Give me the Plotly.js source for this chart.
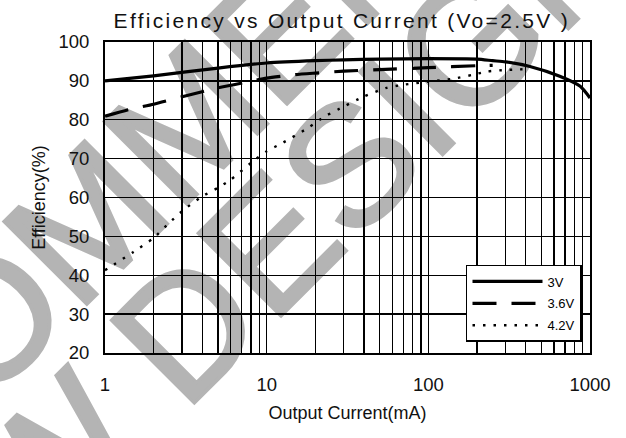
<!DOCTYPE html>
<html>
<head>
<meta charset="utf-8">
<script src="https://cdn.plot.ly/plotly-3.0.1.min.js"></script>
<style>
html,body{margin:0;padding:0;background:#fff;}
#chart{width:626px;height:438px;}
.gtitle{letter-spacing:2.3px;}
.layer-below .shapelayer text{stroke:#b4b4b4;stroke-width:3.5px;}
</style>
</head>
<body>
<div id="chart"></div>
<script>
// ---- data ----
const current3V  = [1, 2, 5, 10, 20, 30, 50, 100, 200, 250, 300, 425, 650, 870, 1000];
const eff3V      = [90, 91.3, 93.3, 94.6, 95.2, 95.4, 95.6, 95.7, 95.6, 95.2, 94.9, 93.7, 91.2, 88.6, 85.6];

const current36V = [1, 1.4, 2, 3, 5, 8, 10, 15, 20, 30, 50, 100, 200, 250];
const eff36V     = [80.9, 82.6, 84, 85.9, 88.2, 89.9, 90.7, 91.6, 92.0, 92.5, 92.9, 93.4, 93.9, 94.0];

const current42V = [1, 1.5, 2, 2.5, 3, 4, 5, 6, 8, 10, 12.5, 18, 23, 30, 40, 55, 70, 100, 140, 190, 230, 300, 400];
const eff42V     = [41.3, 46, 49.6, 53.5, 56.5, 60.3, 62.5, 64.6, 68.9, 71.9, 74, 77.9, 80.9, 83.4, 86, 88.2, 89, 89.8, 90.5, 91.6, 92.4, 92.8, 93];

const seriesNames = ['3V', '3.6V', '4.2V'];
const decades = [1, 10, 100];
const multipliers = [1, 2, 3, 4, 5, 6, 7, 8, 9];
const lastDecade = 1000;
const yTicks = [20, 30, 40, 50, 60, 70, 80, 90, 100];

const titleText = 'Efficiency vs Output Current (Vo=2.5V )';
const xTitle = 'Output Current(mA)';
const yTitle = 'Efficiency(%)';
const watermark1 = 'NOT RECOMMENDED FOR';
const watermark2 = 'NEW DESIGN';

// ---- build log grid ticks ----
const xTickVals = [];
const xTickText = [];
decades.forEach(d => multipliers.forEach(m => {
  xTickVals.push(d * m);
  xTickText.push(m === 1 ? String(d) : '');
}));
xTickVals.push(lastDecade);
xTickText.push(String(lastDecade));

const font = 'Liberation Sans, Arial, sans-serif';

const traces = [
  {x: current3V, y: eff3V, name: seriesNames[0], legendgroup: 'a', mode: 'lines',
   line: {color: '#000', width: 3.2, shape: 'spline', smoothing: 0.6}},
  {x: current36V, y: eff36V, name: seriesNames[1], legendgroup: 'b', mode: 'lines',
   line: {color: '#000', width: 3.2, dash: '24px,15px', shape: 'spline', smoothing: 0.6}},
  {x: current42V, y: eff42V, name: seriesNames[2], legendgroup: 'c', mode: 'lines',
   line: {color: '#000', width: 2.4, dash: '2.5px,8px', shape: 'spline', smoothing: 0.6}}
];

const wmFont = {family: 'Liberation Sans, Arial, sans-serif', size: 170, color: '#b4b4b4'};
const layout = {
  width: 626, height: 438,
  margin: {l: 105, r: 36, t: 42, b: 85},
  paper_bgcolor: '#fff', plot_bgcolor: '#fff',
  font: {family: font, color: '#000'},
  showlegend: true,
  title: {text: titleText, font: {family: font, size: 21, color: '#111'},
          x: 0.546, xanchor: 'center', y: 0.952, yanchor: 'middle'},
  xaxis: {
    type: 'log', range: [0, 3],
    tickmode: 'array', tickvals: xTickVals, ticktext: xTickText,
    showgrid: true, gridcolor: '#000', gridwidth: 1.3,
    showline: true, mirror: true, linecolor: '#000', linewidth: 2,
    ticks: '', zeroline: false, ticklabelstandoff: 14,
    tickfont: {family: font, size: 18.5, color: '#111'},
    title: {text: xTitle, font: {family: font, size: 18, color: '#111'}, standoff: 12}
  },
  yaxis: {
    range: [20, 100], tickmode: 'array', tickvals: yTicks,
    showgrid: true, gridcolor: '#000', gridwidth: 1.3,
    showline: true, mirror: true, linecolor: '#000', linewidth: 2,
    ticks: '', zeroline: false, ticklabelstandoff: 10,
    tickfont: {family: font, size: 18.5, color: '#111'},
    title: {text: yTitle, font: {family: font, size: 18, color: '#111'}, standoff: 8}
  },
  legend: {
    x: 0.9835, xanchor: 'right', y: 0.283, yanchor: 'top',
    bgcolor: '#fff', bordercolor: '#000', borderwidth: 1.5,
    font: {family: font, size: 13, color: '#000'},
    itemwidth: 70, tracegroupgap: 2
  },
  shapes: [
    {type: 'rect', xref: 'paper', yref: 'paper', layer: 'below',
     x0: 0.0975, x1: 0.1375, y0: 0.7195, y1: 0.7595,
     line: {width: 0, color: 'rgba(0,0,0,0)'}, fillcolor: 'rgba(0,0,0,0)',
     label: {text: watermark1, textangle: -45, textposition: 'middle center', font: wmFont}},
    {type: 'rect', xref: 'paper', yref: 'paper', layer: 'below',
     x0: 0.186, x1: 0.226, y0: 0.195, y1: 0.235,
     line: {width: 0, color: 'rgba(0,0,0,0)'}, fillcolor: 'rgba(0,0,0,0)',
     label: {text: watermark2, textangle: -45, textposition: 'middle center', font: wmFont}}
  ]
};

Plotly.newPlot('chart', traces, layout, {staticPlot: true, displayModeBar: false});
</script>
</body>
</html>
